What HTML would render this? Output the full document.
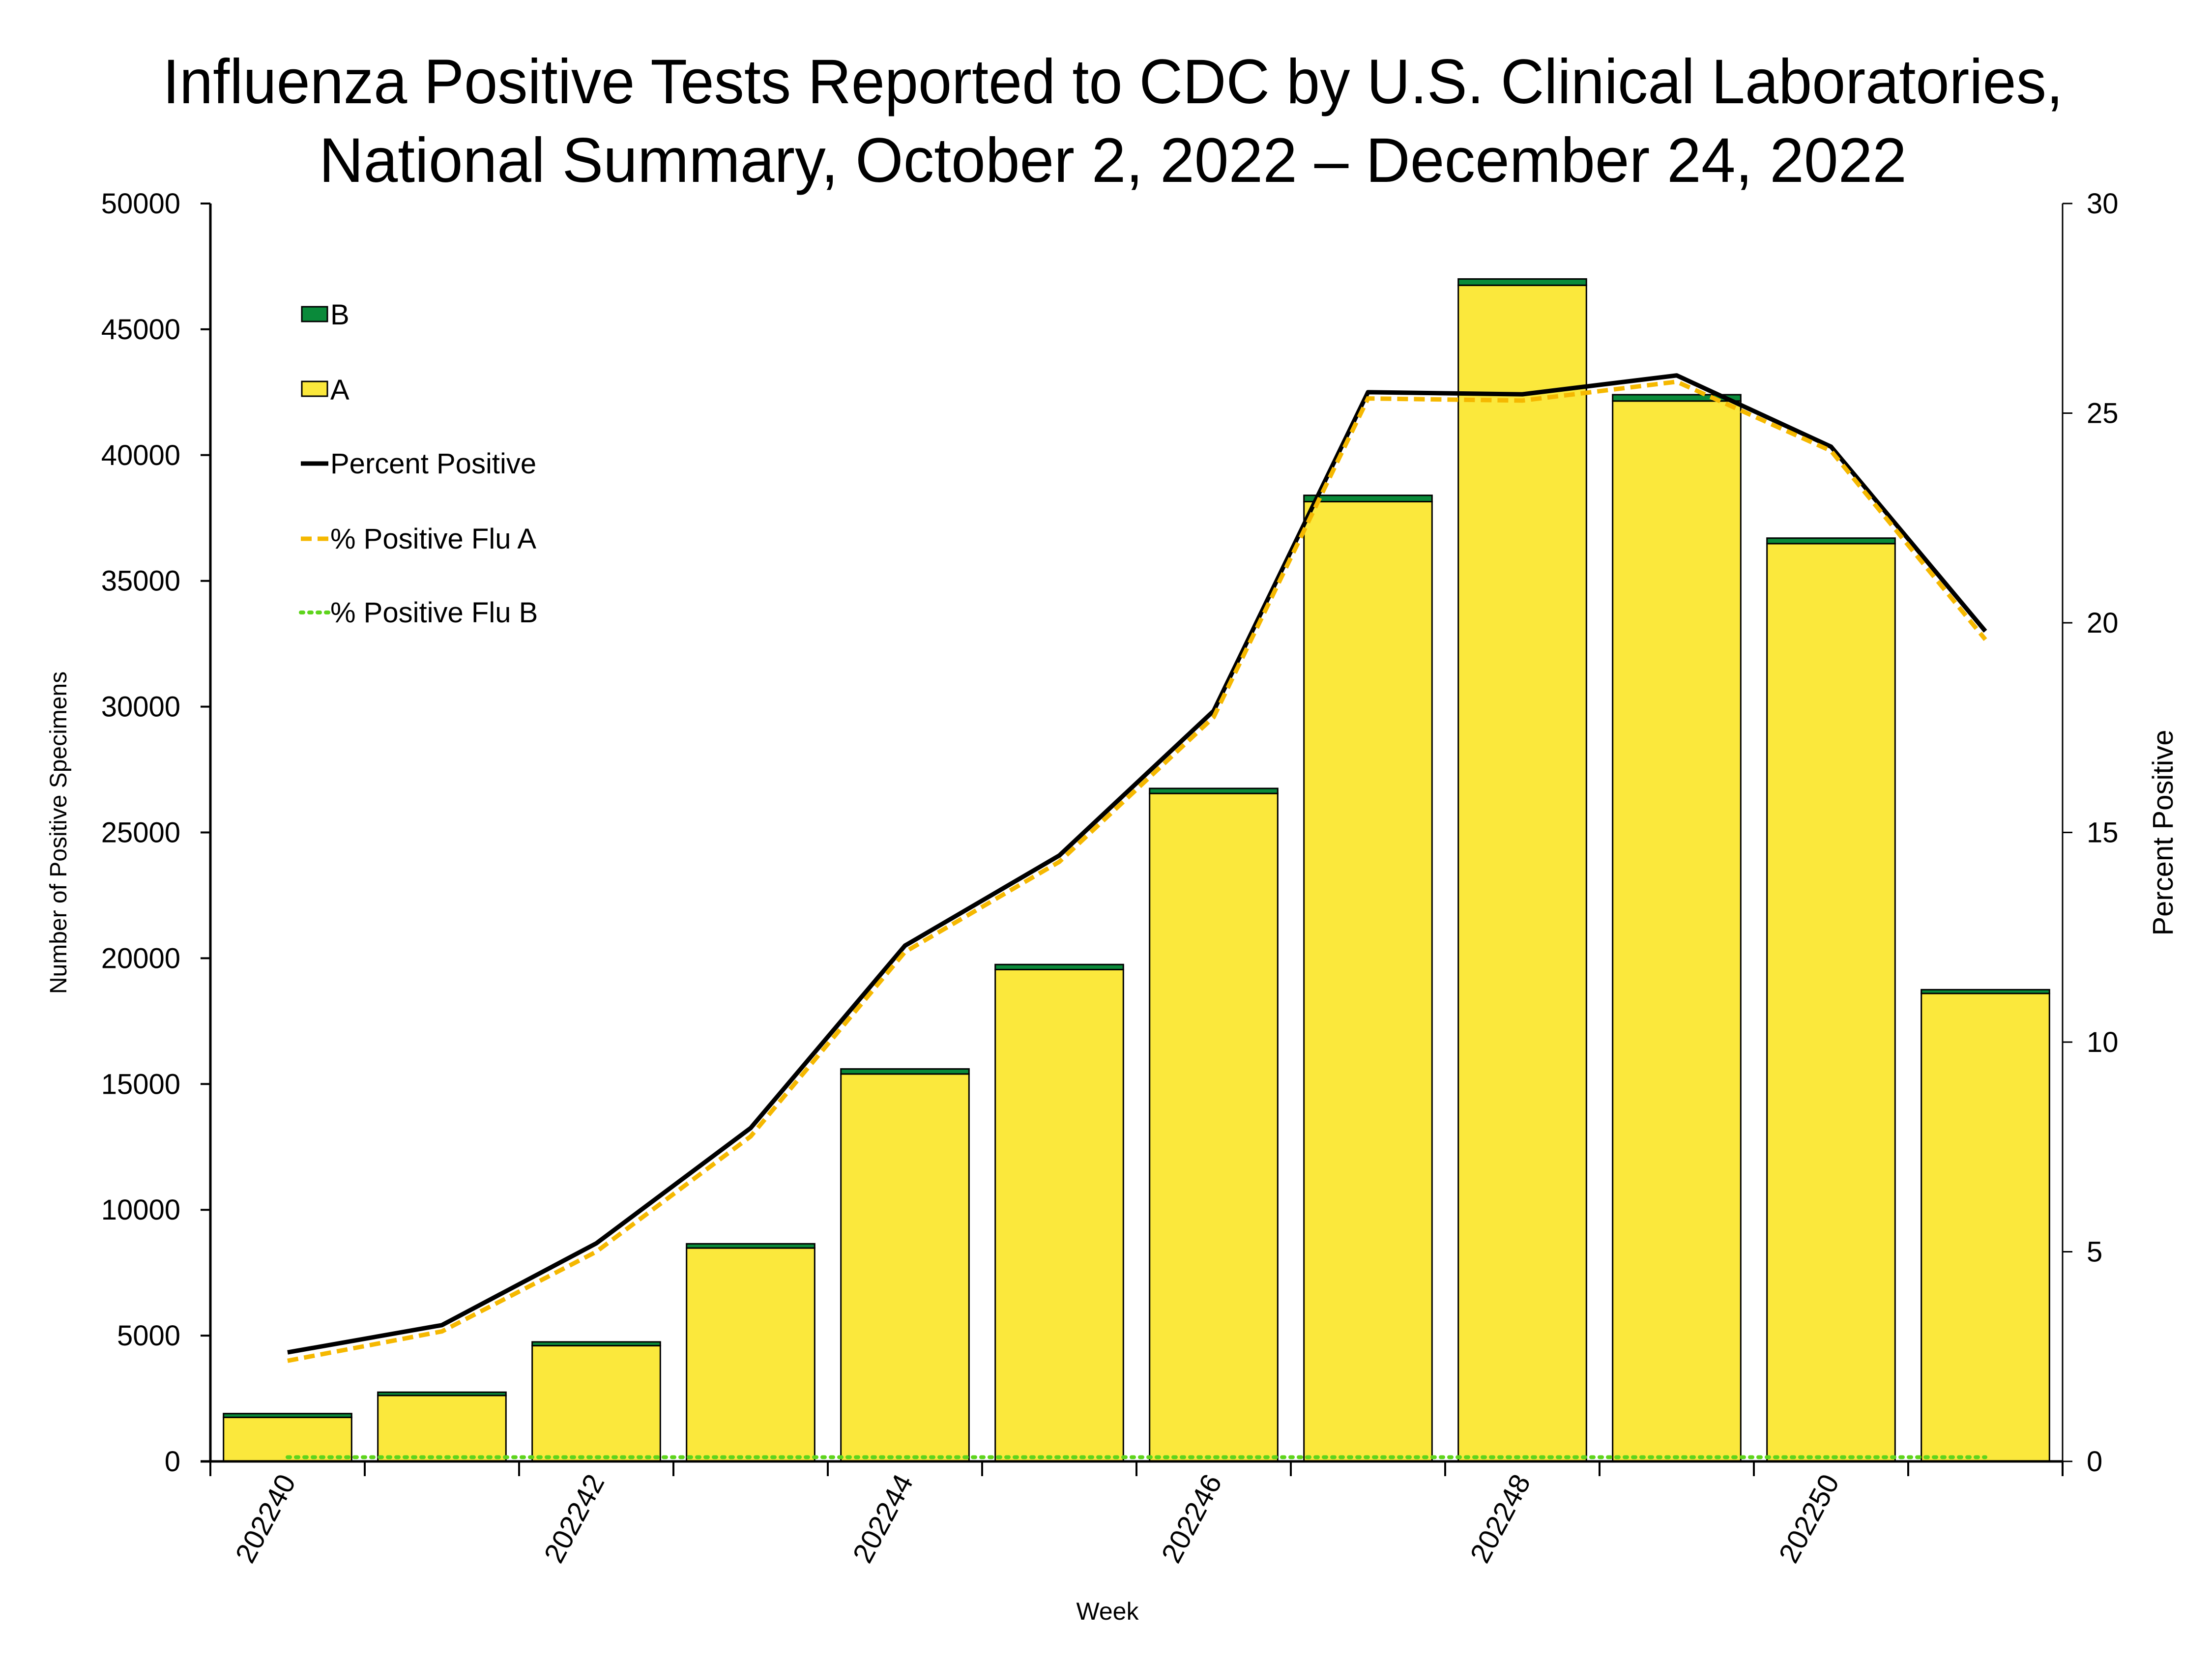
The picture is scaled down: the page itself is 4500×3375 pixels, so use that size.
<!DOCTYPE html>
<html><head><meta charset="utf-8"><style>
html,body{margin:0;padding:0;background:#fff}
svg{display:block}
text{font-family:"Liberation Sans",sans-serif;fill:#000}
</style></head><body>
<svg id="chart" width="4500" height="3375" viewBox="0 0 4500 3375" xmlns="http://www.w3.org/2000/svg">
<text x="2264" y="210" text-anchor="middle" font-size="128" textLength="3866" lengthAdjust="spacingAndGlyphs">Influenza Positive Tests Reported to CDC by U.S. Clinical Laboratories,</text>
<text x="2264" y="370" text-anchor="middle" font-size="128" textLength="3230" lengthAdjust="spacingAndGlyphs">National Summary, October 2, 2022 – December 24, 2022</text>
<g id="bars"></g>
<g id="lines"></g>
<g id="axes"></g>
<text transform="translate(135,1694) rotate(-90)" text-anchor="middle" font-size="48">Number of Positive Specimens</text>
<text transform="translate(4420,1694) rotate(-90)" text-anchor="middle" font-size="58">Percent Positive</text>
<text x="2253" y="3295" text-anchor="middle" font-size="50">Week</text>
<g>
<rect x="614" y="624" width="52" height="30" fill="#0a8a3a" stroke="#000" stroke-width="3"/>
<text x="672" y="660" font-size="58">B</text>
<rect x="614" y="776" width="52" height="30" fill="#fbe83c" stroke="#000" stroke-width="3"/>
<text x="672" y="813" font-size="58">A</text>
<line x1="612" y1="943" x2="668" y2="943" stroke="#000" stroke-width="9"/>
<text x="672" y="963" font-size="58">Percent Positive</text>
<line x1="612" y1="1096" x2="668" y2="1096" stroke="#f5b800" stroke-width="9" stroke-dasharray="22,12"/>
<text x="672" y="1116" font-size="58">% Positive Flu A</text>
<line x1="612" y1="1246" x2="668" y2="1246" stroke="#5ed41c" stroke-width="8" stroke-dasharray="5,12" stroke-linecap="round"/>
<text x="672" y="1266" font-size="58">% Positive Flu B</text>
</g>
</svg>
<script>
const weeks = ["202240","202241","202242","202243","202244","202245","202246","202247","202248","202249","202250","202251"];
const fluA = [1750,2620,4600,8480,15400,19550,26550,38150,46750,42150,36480,18600];
const fluB = [150,130,150,170,200,200,200,250,250,250,220,150];
const pctPositive = [2.6,3.25,5.2,7.95,12.3,14.45,17.9,25.5,25.45,25.9,24.2,19.8];
const pctFluA = [2.4,3.1,5.0,7.75,12.15,14.3,17.75,25.35,25.3,25.75,24.1,19.6];
const pctFluB = [0.1,0.1,0.1,0.1,0.1,0.1,0.1,0.1,0.1,0.1,0.1,0.1];
const yTicks = [0,5000,10000,15000,20000,25000,30000,35000,40000,45000,50000];
const y2Ticks = [0,5,10,15,20,25,30];

const NS = "http://www.w3.org/2000/svg";
const L = 428, R = 4196, T = 414, B = 2973;
const yMax = 50000, y2Max = 30;
const band = (R - L) / weeks.length;
const xc = i => L + band * (i + 0.5);
const y = v => B - (v / yMax) * (B - T);
const y2 = v => B - (v / y2Max) * (B - T);
function mk(tag, attrs, parent) {
  const e = document.createElementNS(NS, tag);
  for (const k in attrs) e.setAttribute(k, attrs[k]);
  parent.appendChild(e);
  return e;
}
const gBars = document.getElementById('bars');
const gLines = document.getElementById('lines');
const gAxes = document.getElementById('axes');
const bw = band * 0.83;
weeks.forEach((w, i) => {
  const x0 = xc(i) - bw / 2;
  const a = mk('rect', {x: x0, y: y(fluA[i]), width: bw, height: B - y(fluA[i]), fill: '#fbe83c', stroke: '#000', 'stroke-width': 3}, gBars);
  
  
  const b = mk('rect', {x: x0, y: y(fluA[i] + fluB[i]), width: bw, height: y(fluA[i]) - y(fluA[i] + fluB[i]), fill: '#0a8a3a', stroke: '#000', 'stroke-width': 3}, gBars);
  
  
});
function line(vals, attrs, name) {
  const pts = vals.map((v, i) => xc(i) + ',' + y2(v)).join(' ');
  const p = mk('polyline', Object.assign({points: pts, fill: 'none'}, attrs), gLines);
  
  
}
line(pctFluB, {stroke: '#5ed41c', 'stroke-width': 8, 'stroke-dasharray': '5,12', 'stroke-linecap': 'round'}, 'line-pct-flu-b');
line(pctPositive, {stroke: '#000', 'stroke-width': 9, 'stroke-linejoin': 'round'}, 'line-pct-positive');
line(pctFluA, {stroke: '#f5b800', 'stroke-width': 9, 'stroke-dasharray': '22,12'}, 'line-pct-flu-a');

// axes
let e;
e = mk('line', {x1: L, y1: T, x2: L, y2: B, stroke: '#000', 'stroke-width': 5}, gAxes);


e = mk('line', {x1: R, y1: T, x2: R, y2: B, stroke: '#000', 'stroke-width': 3}, gAxes);


e = mk('line', {x1: L - 20, y1: B, x2: R, y2: B, stroke: '#000', 'stroke-width': 5}, gAxes);


yTicks.forEach(v => {
  mk('line', {x1: L - 20, y1: y(v), x2: L, y2: y(v), stroke: '#000', 'stroke-width': 4}, gAxes);
  const t = mk('text', {x: 367, y: y(v) + 20, 'text-anchor': 'end', 'font-size': 58}, gAxes);
  t.textContent = v;
  
  
});
y2Ticks.forEach(v => {
  mk('line', {x1: R, y1: y2(v), x2: R + 20, y2: y2(v), stroke: '#000', 'stroke-width': 3}, gAxes);
  const t = mk('text', {x: 4245, y: y2(v) + 20, 'text-anchor': 'start', 'font-size': 58}, gAxes);
  t.textContent = v;
  
  
});
for (let i = 0; i <= weeks.length; i++) {
  mk('line', {x1: L + band * i, y1: B, x2: L + band * i, y2: B + 30, stroke: '#000', 'stroke-width': 4}, gAxes);
}
weeks.forEach((w, i) => {
  if (i % 2) return;
  const t = mk('text', {transform: 'translate(' + (xc(i) + 18) + ',' + (B + 40) + ') rotate(-62)', 'text-anchor': 'end', 'font-size': 58}, gAxes);
  t.textContent = w;
  
  
});
</script>
</body></html>
